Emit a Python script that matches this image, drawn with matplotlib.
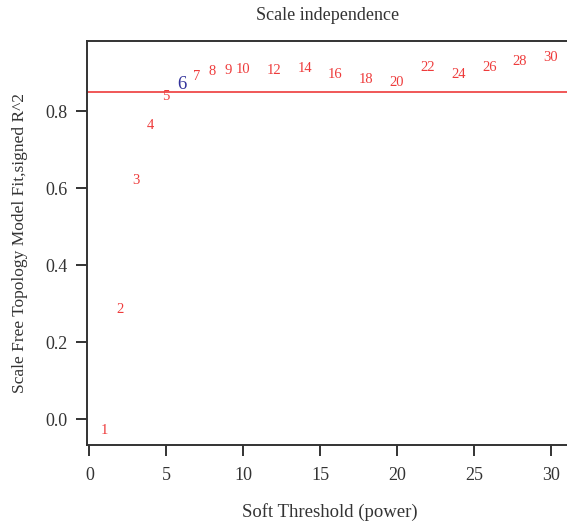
import matplotlib
matplotlib.use("Agg")
import matplotlib.pyplot as plt

plt.rcParams['font.family'] = ['Liberation Serif', 'DejaVu Serif']

# soft-thresholding powers and their signed scale-free fit R^2
powers = [1, 2, 3, 4, 5, 6, 7, 8, 9, 10, 12, 14, 16, 18, 20, 22, 24, 26, 28, 30]
signed_r2 = [-0.030, 0.285, 0.619, 0.762, 0.837, 0.869, 0.889, 0.902, 0.906, 0.908,
             0.906, 0.911, 0.894, 0.882, 0.875, 0.914, 0.894, 0.914, 0.928, 0.939]
picked_power = 6
r2_cutoff = 0.85

x_ticks = [0, 5, 10, 15, 20, 25, 30]
y_ticks = [0.0, 0.2, 0.4, 0.6, 0.8]

red = '#ee3b3b'
blue = '#34349c'
ink = '#333333'

fig = plt.figure(figsize=(5.67, 5.27), dpi=100)
ax = fig.add_axes([0.154, 0.1556, 0.852, 0.7666])

for p, r2 in zip(powers, signed_r2):
    if p == picked_power:
        ax.text(p, r2, str(p), color=blue, fontsize=13.5, ha='center', va='center')
    else:
        ax.text(p, r2, str(p), color=red, fontsize=10.5, ha='center', va='center')

ax.axhline(r2_cutoff, color=red, lw=1.2)

ax.set_xlim(-0.13, 31.27)
ax.set_ylim(-0.0675, 0.982)
ax.set_xticks(x_ticks)
ax.set_xticklabels([str(t) for t in x_ticks])
ax.set_yticks(y_ticks)
ax.set_yticklabels([f"{t:.1f}" for t in y_ticks])

for s in ax.spines.values():
    s.set_color(ink)
    s.set_linewidth(1.4)
ax.tick_params(axis='both', direction='out', length=8, width=1.4, color=ink,
               labelsize=13, labelcolor=ink)
ax.tick_params(axis='x', pad=8)
ax.tick_params(axis='y', pad=6)

fig.text(327.5 / 567, 1 - 15 / 527, "Scale independence", ha='center', va='center',
         fontsize=13, color=ink)
fig.text(330 / 567, 1 - 512 / 527, "Soft Threshold (power)", ha='center', va='center',
         fontsize=13.5, color=ink)
fig.text(20 / 567, 1 - 243 / 527, "Scale Free Topology Model Fit,signed R^2", ha='center',
         va='center', rotation=90, fontsize=12.5, color=ink)

fig.savefig("out.png", dpi=100)
